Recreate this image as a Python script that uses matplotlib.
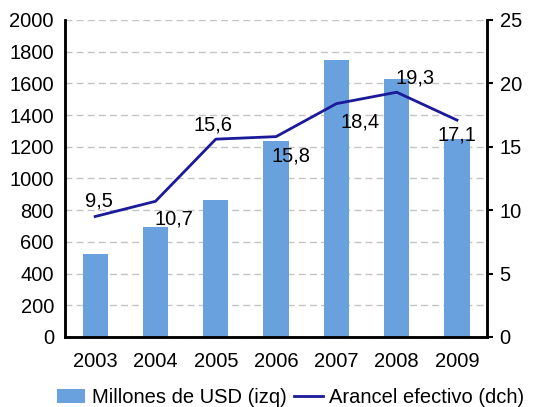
import numpy as np
import matplotlib
matplotlib.use('Agg')
import matplotlib.pyplot as plt

plt.rcParams['font.family'] = ['Liberation Sans', 'DejaVu Sans']
plt.rcParams['font.size'] = 14.5

years = ['2003', '2004', '2005', '2006', '2007', '2008', '2009']
millones = [524, 694, 864, 1237, 1748, 1628, 1252]
arancel = [9.5, 10.7, 15.6, 15.8, 18.4, 19.3, 17.1]
arancel_labels = ['9,5', '10,7', '15,6', '15,8', '18,4', '19,3', '17,1']

# label offsets in points (dx, dy)
offsets = [(3, 11), (13, -13), (-2, 10), (11, -14), (17, -13), (13, 10), (0, -11)]

bar_color = '#68a1de'
line_color = '#1a1a9a'

fig = plt.figure(figsize=(5.33, 4.07), dpi=100)
ax = fig.add_axes([0.122, 0.172, 0.792, 0.779])
ax2 = ax.twinx()

x = np.arange(len(years))
ax.bar(x, millones, width=0.42, color=bar_color, zorder=2, label='Millones de USD (izq)')
ax.set_ylim(0, 2000)
ax.set_yticks(np.arange(0, 2001, 200))
ax.set_xlim(-0.5, len(years) - 0.5)
ax.set_xticks(x)
ax.set_xticklabels(years)
ax.yaxis.grid(True, linestyle=(0, (5, 3)), color='#c4c4c4', linewidth=1, zorder=0)
ax.set_axisbelow(True)
ax.tick_params(axis='y', length=0, pad=8)
ax.tick_params(axis='x', length=0, pad=11)

ln, = ax2.plot(x, arancel, color=line_color, linewidth=2, zorder=3, label='Arancel efectivo (dch)')
ax2.set_ylim(0, 25)
ax2.set_yticks(np.arange(0, 26, 5))
ax2.tick_params(axis='y', length=4, width=1.5, pad=5)

for xi, v, lab, (dx, dy) in zip(x, arancel, arancel_labels, offsets):
    ax2.annotate(lab, (xi, v), xytext=(dx, dy), textcoords='offset points',
                 ha='center', va='center', fontsize=14.5)

for a in (ax, ax2):
    a.spines['top'].set_visible(False)
    for s in ('left', 'right', 'bottom'):
        a.spines[s].set_linewidth(1.8)

h1, l1 = ax.get_legend_handles_labels()
h2, l2 = ax2.get_legend_handles_labels()
fig.legend(h1 + h2, l1 + l2, loc='lower center', bbox_to_anchor=(0.545, -0.045), ncol=2,
           frameon=False, handlelength=1.4, handletextpad=0.3, columnspacing=0.4, fontsize=14.5)

fig.savefig('out.png', dpi=100)
